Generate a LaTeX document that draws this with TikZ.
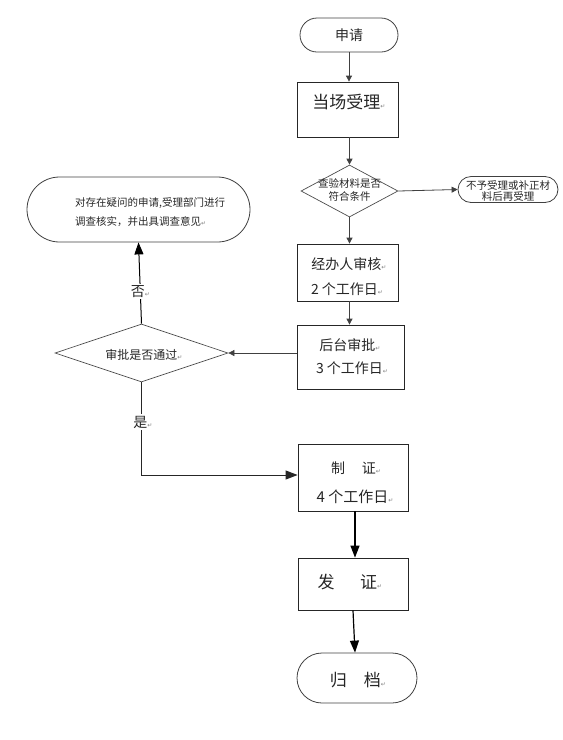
\documentclass[tikz,border=0pt]{standalone}
\usepackage{fontspec}
\setmainfont{Noto Sans CJK SC}
\newfontfamily\symfont{DejaVu Sans}
\usetikzlibrary{shapes.geometric,shapes.misc,arrows.meta}
\newcommand{\retmark}{{\symfont\color{gray}\fontsize{6}{6}\selectfont ↵}}
\newcommand{\fs}[1]{\fontsize{#1}{#1}\selectfont}
\begin{document}
\begin{tikzpicture}[x=1pt,y=-1pt,
  box/.style={draw=black!85, line width=0.8pt, rectangle, inner sep=0pt},
  term/.style={draw=black!75, line width=0.8pt, rounded rectangle, inner sep=0pt},
  dec/.style={draw=black!70, line width=0.7pt, diamond, inner sep=0pt},
  txt/.style={inner sep=0pt, text=black!85},
  thinarrow/.style={draw=black!75, line width=0.8pt, -{Triangle[length=6pt,width=6pt]}},
  thickarrow/.style={draw=black, line width=1.2pt, -{Triangle[length=12pt,width=9pt]}},
  lbl/.style={fill=white, inner sep=1.5pt, text=black!85, font=\fs{14}}]
\useasboundingbox (0,0) rectangle (563,740);

% nodes
\node[term, minimum width=98pt, minimum height=34pt] (apply) at (349,35) {};
\node[txt, font=\fs{14}] at (349,35) {申请};

\node[box, minimum width=101pt, minimum height=55pt] (accept) at (347.5,109.5) {};
\node[txt, font=\fs{17}] at (349,102) {当场受理\retmark};

\node[dec, minimum width=97pt, minimum height=52pt] (check) at (349.5,191) {};
\node[txt, font=\fs{10.5}, align=center] at (349.5,190) {查验材料是否\\[2pt]符合条件};

\node[term, minimum width=100pt, minimum height=26pt] (reject) at (508,189.5) {};
\node[txt, font=\fs{10.5}, align=center] at (508,191) {不予受理或补正材\\[1pt]料后再受理};

\node[box, minimum width=101pt, minimum height=57pt] (handler) at (347.5,272.5) {};
\node[txt, font=\fs{14}] at (349,264) {经办人审核\retmark};
\node[txt, font=\fs{14}] at (347,289) {2 个工作日\retmark};

\node[box, minimum width=107pt, minimum height=64pt] (backend) at (350.5,357) {};
\node[txt, font=\fs{14}] at (350,345) {后台审批\retmark};
\node[txt, font=\fs{14}] at (352,368) {3 个工作日\retmark};

\node[dec, minimum width=173pt, minimum height=58pt] (approve) at (141.5,353) {};
\node[txt, font=\fs{12}] at (144,355) {审批是否通过\retmark};

\node[term, minimum width=223pt, minimum height=65pt] (invest) at (138.5,209.5) {};
\node[txt, font=\fs{10.5}, align=left, anchor=west] at (75,212.5) {对存在疑问的申请,受理部门进行\\[7pt]调查核实，并出具调查意见\retmark};

\node[box, minimum width=110pt, minimum height=67pt] (make) at (353,477.5) {};
\node[txt, font=\fs{14}] at (356,468) {制\hspace{1.2em}证\retmark};
\node[txt, font=\fs{15}] at (355,497) {4 个工作日\retmark};

\node[box, minimum width=110pt, minimum height=52pt] (issue) at (353,584) {};
\node[txt, font=\fs{17}] at (350,582) {发\hspace{1.5em}证\retmark};

\node[term, minimum width=120pt, minimum height=50pt] (archive) at (357,678) {};
\node[txt, font=\fs{17}] at (358,680) {归\hspace{1em}档\retmark};

% connectors
\draw[thinarrow] (apply.south) -- (apply.south |- accept.north);
\draw[thinarrow] (accept.south -| check.north) -- (check.north);
\draw[thinarrow] (check.east) -- (reject.west);
\draw[thinarrow] (check.south) -- (check.south |- handler.north);
\draw[thinarrow] (handler.south -| check.south) -- (check.south |- backend.north);
\draw[thinarrow, line width=0.6pt] (backend.west |- approve.east) -- (approve.east);
\draw[thickarrow, line width=1pt] (approve.north) -- node[lbl, pos=0.4] {否\retmark} (invest.south);
\draw[draw=black!85, line width=1pt, -{Triangle[length=12pt,width=9pt]}] (approve.south) -- (approve.south |- 0,475) -- (make.west |- 0,475);
\node[lbl] (yes) at (143,422) {是\retmark};
\draw[thickarrow] (make.south -| 355,0) -- (issue.north -| 355,0);
\draw[thickarrow] (issue.south -| 353,0) -- (archive.north -| 355,0);
\end{tikzpicture}
\end{document}
